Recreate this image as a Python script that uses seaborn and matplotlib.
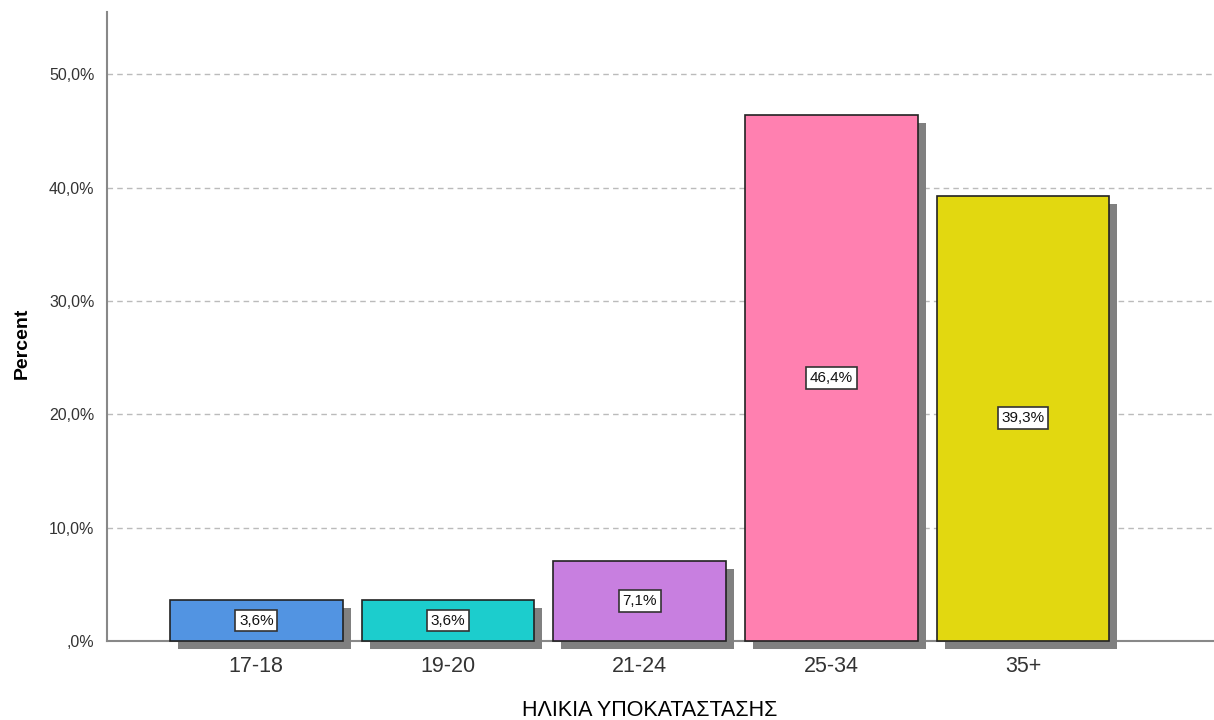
import matplotlib
matplotlib.use("Agg")
import matplotlib.pyplot as plt
import matplotlib.patheffects as pe
import seaborn as sns
import pandas as pd
from matplotlib.ticker import FuncFormatter

age_groups = ["17-18", "19-20", "21-24", "25-34", "35+"]
percents = [3.6, 3.6, 7.1, 46.4, 39.3]
bar_colors = ["#5294e2", "#1ccdcd", "#c87fe0", "#ff80b0", "#e2d810"]

df = pd.DataFrame({"group": age_groups, "pct": percents})

sns.set_theme(style="white")
plt.rcParams["font.family"] = ["Liberation Sans", "DejaVu Sans"]

fig = plt.figure(figsize=(12.14, 7.2), dpi=100)
ax = fig.add_axes([0.0881, 0.1097, 0.9109, 0.8736])

sns.barplot(data=df, x="group", y="pct", hue="group", palette=bar_colors,
            width=0.9, edgecolor="#222222", linewidth=1.2, legend=False,
            saturation=1, ax=ax, zorder=3)

shadow = [pe.SimplePatchShadow(offset=(5.8, -5.8), shadow_rgbFace="#808080", alpha=1),
          pe.Normal()]
for patch in ax.patches:
    patch.set_path_effects(shadow)
    patch.set_clip_on(False)

for i, v in enumerate(percents):
    ax.text(i, v / 2, f"{v:.1f}%".replace(".", ","), ha="center", va="center",
            fontsize=11, color="#111111", zorder=5,
            bbox=dict(boxstyle="square,pad=0.25", fc="white", ec="#333333", lw=1.2))

ax.set_ylim(0, 55.5)
ax.set_xlim(-0.779, 4.99)
ax.set_yticks([0, 10, 20, 30, 40, 50])
ax.yaxis.set_major_formatter(FuncFormatter(
    lambda v, p: ",0%" if v == 0 else f"{v:.1f}%".replace(".", ",")))
ax.grid(axis="y", color="#bbbbbb", linestyle=(0, (4, 3)), linewidth=1, zorder=0)
ax.tick_params(axis="y", length=0, labelsize=11.5, labelcolor="#333333", pad=9)
ax.tick_params(axis="x", length=0, labelsize=15.5, labelcolor="#333333", pad=11)

for s in ["top", "right"]:
    ax.spines[s].set_visible(False)
for s in ["left", "bottom"]:
    ax.spines[s].set_color("#888888")
    ax.spines[s].set_linewidth(1.5)

ax.set_xlabel("")
ax.set_ylabel("")
fig.text(0.5354, 0.0125, "ΗΛΙΚΙΑ ΥΠΟΚΑΤΑΣΤΑΣΗΣ", ha="center", va="center",
         fontsize=15.5, color="black")
fig.text(0.018, 0.5236, "Percent", ha="center", va="center", rotation=90,
         fontsize=14, fontweight="bold", color="black")

fig.savefig("out.png", dpi=100)
